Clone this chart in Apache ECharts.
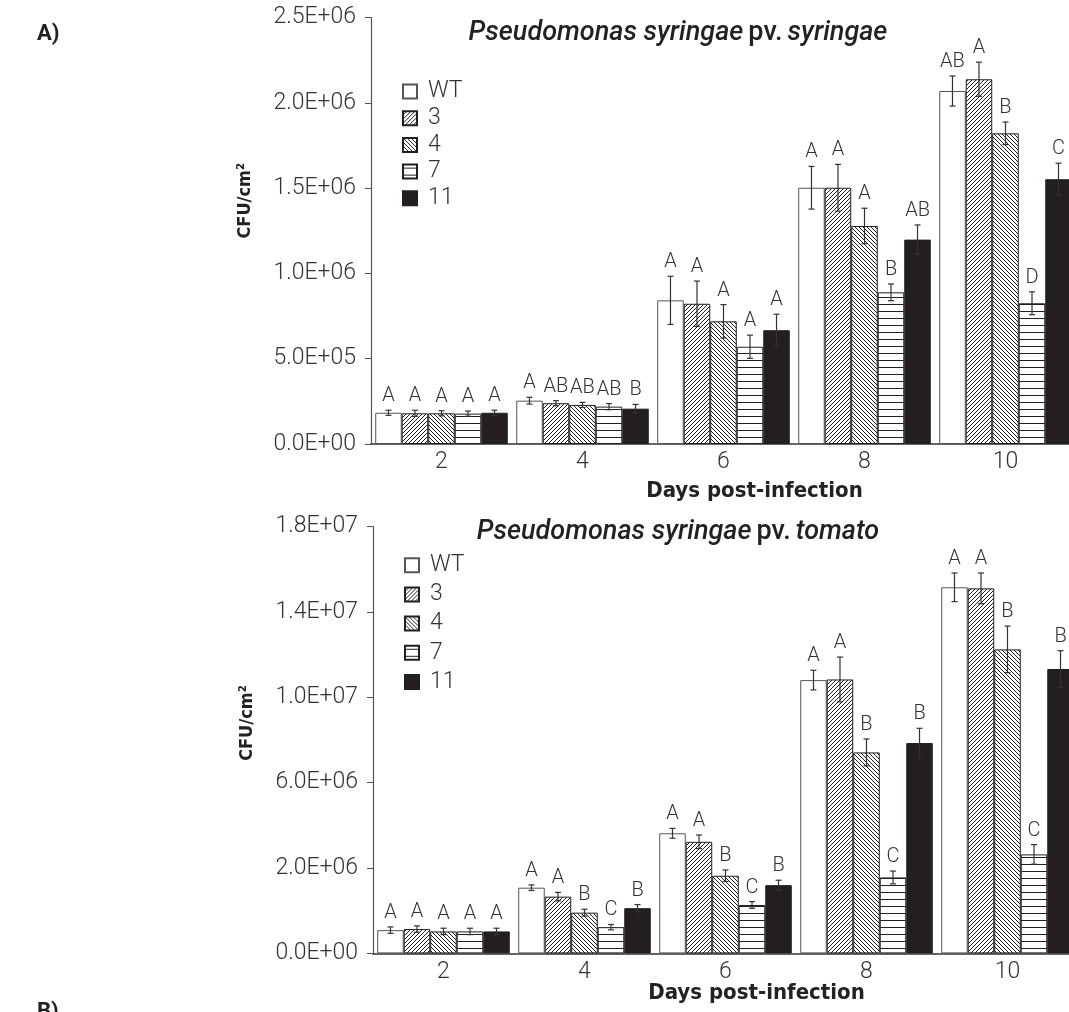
<!DOCTYPE html>
<html>
<head>
<meta charset="utf-8">
<script src="https://cdn.jsdelivr.net/npm/echarts@6/dist/echarts.min.js"></script>
<style>
html,body{margin:0;padding:0;background:#fff;}
#c{width:1069px;height:1012px;}
</style>
</head>
<body>
<div id="c"></div>
<script>
// ---------- DATA ----------
const days = ['2', '4', '6', '8', '10'];
const strains = ['WT', '3', '4', '7', '11'];

// Panel 1: Pseudomonas syringae pv. syringae (CFU/cm2)
const pssWT  = [1.83e5, 2.54e5, 8.42e5, 1.502e6, 2.069e6];
const pss3   = [1.80e5, 2.39e5, 8.22e5, 1.502e6, 2.138e6];
const pss4   = [1.80e5, 2.29e5, 7.19e5, 1.278e6, 1.821e6];
const pss7   = [1.78e5, 2.19e5, 5.70e5, 8.89e5, 8.25e5];
const pss11  = [1.83e5, 2.07e5, 6.67e5, 1.198e6, 1.552e6];
const pssErrWT = [1.5e4, 2.0e4, 1.41e5, 1.25e5, 8.8e4];
const pssErr3  = [1.8e4, 1.5e4, 1.33e5, 1.37e5, 1.0e5];
const pssErr4  = [1.5e4, 1.5e4, 9.8e4, 1.04e5, 6.6e4];
const pssErr7  = [1.5e4, 1.8e4, 6.8e4, 4.9e4, 6.7e4];
const pssErr11 = [1.5e4, 2.5e4, 9.4e4, 8.6e4, 9.4e4];
const pssLetWT = ['A', 'A', 'A', 'A', 'AB'];
const pssLet3  = ['A', 'AB', 'A', 'A', 'A'];
const pssLet4  = ['A', 'AB', 'A', 'A', 'B'];
const pssLet7  = ['A', 'AB', 'A', 'B', 'D'];
const pssLet11 = ['A', 'B', 'A', 'AB', 'C'];
const pssTicks = ['0.0E+00', '5.0E+05', '1.0E+06', '1.5E+06', '2.0E+06', '2.5E+06'];

// Panel 2: Pseudomonas syringae pv. tomato (axis units: one tick step = 4e6)
const pstWT  = [1.09e6, 3.08e6, 5.63e6, 1.281e7, 1.716e7];
const pst3   = [1.14e6, 2.66e6, 5.23e6, 1.284e7, 1.711e7];
const pst4   = [1.03e6, 1.91e6, 3.64e6, 9.42e6, 1.425e7];
const pst7   = [1.03e6, 1.23e6, 2.27e6, 3.56e6, 4.64e6];
const pst11  = [1.03e6, 2.12e6, 3.20e6, 9.86e6, 1.333e7];
const pstErrWT = [1.5e5, 1.3e5, 2.3e5, 4.6e5, 6.7e5];
const pstErr3  = [1.5e5, 2.0e5, 3.2e5, 1.05e6, 7.2e5];
const pstErr4  = [1.5e5, 1.6e5, 2.7e5, 6.3e5, 1.09e6];
const pstErr7  = [1.5e5, 1.25e5, 1.56e5, 3.0e5, 4.6e5];
const pstErr11 = [1.5e5, 1.7e5, 2.3e5, 6.9e5, 8.6e5];
const pstLetWT = ['A', 'A', 'A', 'A', 'A'];
const pstLet3  = ['A', 'A', 'A', 'A', 'A'];
const pstLet4  = ['A', 'B', 'B', 'B', 'B'];
const pstLet7  = ['A', 'C', 'C', 'C', 'C'];
const pstLet11 = ['A', 'B', 'B', 'B', 'B'];
const pstTicks = ['0.0E+00', '2.0E+06', '6.0E+06', '1.0E+07', '1.4E+07', '1.8E+07'];

// ---------- STYLE HELPERS ----------
const INK = '#231f20';
function makePattern(kind) {
  const c = document.createElement('canvas');
  const s = kind === 'h' ? 7 : 8;
  c.width = 8; c.height = s;
  const g = c.getContext('2d');
  g.fillStyle = '#fff'; g.fillRect(0, 0, c.width, c.height);
  g.strokeStyle = INK; g.lineWidth = 1;
  g.beginPath();
  if (kind === 'f') {           // "/" lines
    for (let k = -8; k <= 16; k += 4) { g.moveTo(k, 8); g.lineTo(k + 8, 0); }
  } else if (kind === 'b') {    // "\" lines
    for (let k = -8; k <= 16; k += 4) { g.moveTo(k, 0); g.lineTo(k + 8, 8); }
  } else {                      // horizontal lines
    g.moveTo(0, 3.5); g.lineTo(8, 3.5);
  }
  g.stroke();
  return { image: c, repeat: 'repeat' };
}
const fills = [
  '#ffffff',
  makePattern('f'),
  makePattern('b'),
  makePattern('h'),
  INK
];
const borders = ['#555', INK, INK, INK, INK];

const FONT = 'Roboto, "Noto Sans", sans-serif';
const COND = '"Liberation Sans Narrow", "DejaVu Sans Condensed", Roboto, sans-serif';

const panels = [
  { vals: [pssWT, pss3, pss4, pss7, pss11],
    errs: [pssErrWT, pssErr3, pssErr4, pssErr7, pssErr11],
    lets: [pssLetWT, pssLet3, pssLet4, pssLet7, pssLet11],
    ticks: pssTicks, max: 2.5e6, interval: 5e5, namePad: 60, xGap: 36 },
  { vals: [pstWT, pst3, pst4, pst7, pst11],
    errs: [pstErrWT, pstErr3, pstErr4, pstErr7, pstErr11],
    lets: [pstLetWT, pstLet3, pstLet4, pstLet7, pstLet11],
    ticks: pstTicks, max: 2.0e7, interval: 4e6, namePad: 34, xGap: 29 }
];

const CAT_GAP = 0.06;
const series = [];
panels.forEach((p, pi) => {
  strains.forEach((name, si) => {
    series.push({
      type: 'bar', name: name, xAxisIndex: pi, yAxisIndex: pi,
      data: p.vals[si], barGap: '0%', barCategoryGap: (CAT_GAP * 100) + '%',
      itemStyle: { color: fills[si], borderColor: borders[si], borderWidth: 1 },
      emphasis: { disabled: true }, silent: true
    });
  });
  strains.forEach((name, si) => {
    series.push({
      type: 'custom', name: 'err-' + pi + '-' + si, xAxisIndex: pi, yAxisIndex: pi,
      data: p.vals[si].map((v, i) => [i, v]), encode: { x: 0, y: 1 }, z: 10, silent: true,
      renderItem: function (params, api) {
        const i = api.value(0), v = api.value(1), e = p.errs[si][i];
        const c = api.coord([i, v]);
        const band = api.size([1, 0])[0];
        const bw = band * (1 - CAT_GAP) / strains.length;
        const x = c[0] + (si - (strains.length - 1) / 2) * bw;
        const yt = api.coord([i, v + e])[1];
        const yb = api.coord([i, v - e])[1];
        const st = { stroke: '#333', lineWidth: 1.2 };
        return { type: 'group', children: [
          { type: 'line', shape: { x1: x, y1: yt, x2: x, y2: yb }, style: st },
          { type: 'line', shape: { x1: x - 3, y1: yt, x2: x + 3, y2: yt }, style: st },
          { type: 'line', shape: { x1: x - 3, y1: yb, x2: x + 3, y2: yb }, style: st },
          { type: 'text', style: { text: p.lets[si][i], x: x, y: yt - 4, align: 'center',
              verticalAlign: 'bottom', fontSize: 20, fontFamily: FONT, fontWeight: 300, fill: '#333' } }
        ]};
      }
    });
  });
});

const grids = [
  { left: 371, top: 17.5, width: 705, height: 426.5, outerBoundsMode: 'none', containLabel: false },
  { left: 373, top: 526.7, width: 705, height: 426.7, outerBoundsMode: 'none', containLabel: false }
];

const xAxes = panels.map((p, pi) => ({
  type: 'category', gridIndex: pi, data: days,
  axisLine: { lineStyle: { color: '#333', width: 1.5 } },
  axisTick: { show: false },
  axisLabel: { fontSize: 23, color: '#333', fontFamily: FONT, fontWeight: 300, margin: 7 },
  name: 'Days post-infection', nameLocation: 'middle', nameGap: p.xGap, nameMoveOverlap: false,
  nameTextStyle: { fontSize: 22, fontWeight: 'bold', color: '#222', fontFamily: COND, padding: [0, 0, 0, 62] }
}));

const yAxes = panels.map((p, pi) => ({
  type: 'value', gridIndex: pi, min: 0, max: p.max, interval: p.interval,
  axisLine: { show: true, lineStyle: { color: '#555', width: 1.2 } },
  axisTick: { show: true, length: 6, lineStyle: { color: '#555' } },
  splitLine: { show: false },
  axisLabel: { fontSize: 23, color: '#333', fontFamily: FONT, fontWeight: 300, margin: 15,
    formatter: function (v) { return p.ticks[Math.round(v / p.interval)]; } },
  name: 'CFU/cm²', nameLocation: 'middle', nameGap: 117, nameMoveOverlap: false,
  nameTextStyle: { fontSize: 18, fontWeight: 'bold', color: '#222', fontFamily: COND, padding: [0, 0, 0, p.namePad] }
}));

const legendBase = {
  orient: 'vertical', icon: 'rect', itemWidth: 14, itemHeight: 14, selectedMode: false,
  padding: 0, data: strains,
  textStyle: { fontSize: 23, color: '#333', fontFamily: FONT, fontWeight: 300, lineHeight: 20, padding: [0, 0, 0, 6] }
};

const titleRich = {
  i: { fontStyle: 'italic', fontWeight: 500, fontSize: 27, color: '#222', fontFamily: FONT },
  n: { fontStyle: 'normal', fontWeight: 500, fontSize: 27, color: '#222', fontFamily: FONT }
};

const option = {
  animation: false,
  backgroundColor: '#fff',
  title: [
    { text: '{i|Pseudomonas syringae} {n|pv.} {i|syringae}', left: 673, top: 15, textAlign: 'center',
      textStyle: { rich: titleRich } },
    { text: '{i|Pseudomonas syringae} {n|pv.} {i|tomato}', left: 673, top: 514, textAlign: 'center',
      textStyle: { rich: titleRich } }
  ],
  legend: [
    Object.assign({}, legendBase, { left: 402, top: 80, itemGap: 3.7 }),
    Object.assign({}, legendBase, { left: 404, top: 553.7, itemGap: 6.2 })
  ],
  grid: grids,
  xAxis: xAxes,
  yAxis: yAxes,
  series: series,
  graphic: [
    { type: 'text', left: 37, top: 23, style: { text: 'A)', fontSize: 22, fontWeight: 'bold', fill: '#222', fontFamily: FONT } },
    { type: 'text', left: 37, top: 1001, style: { text: 'B)', fontSize: 22, fontWeight: 'bold', fill: '#222', fontFamily: FONT } }
  ]
};

const chart = echarts.init(document.getElementById('c'), null, { renderer: 'canvas' });
chart.setOption(option);
</script>
</body>
</html>
